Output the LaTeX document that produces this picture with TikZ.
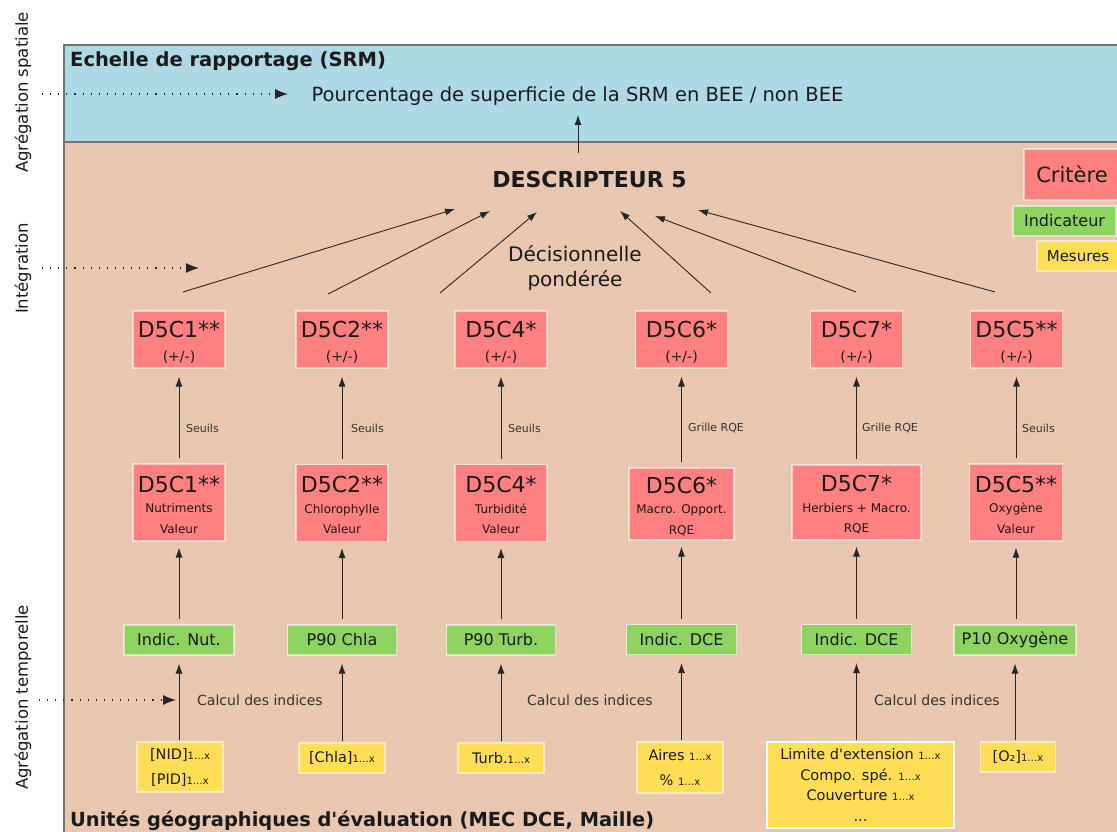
\documentclass[tikz,border=0pt]{standalone}
\usepackage{fontspec}
\setmainfont{DejaVu Sans}[Ligatures=TeXOff]
\usetikzlibrary{arrows.meta}
\definecolor{bgblue}{HTML}{ADD8E6}
\definecolor{bgbrown}{HTML}{E9C6AF}
\definecolor{critred}{HTML}{FF8080}
\definecolor{indgreen}{HTML}{8DD35F}
\definecolor{mesyellow}{HTML}{FFDD55}
\definecolor{txt}{HTML}{1A1A1A}
\newcommand{\fs}[2]{\fontsize{#1}{#2}\selectfont}
\newcommand{\idx}{{\fs{10}{10}1…x}}
\newcommand{\topstrut}[1]{\rule{0pt}{#1}}
\tikzset{
  box/.style={rectangle, inner sep=0pt, draw=white, draw opacity=0.55, line width=1.2pt, text=txt, align=center},
  critbox/.style={box, fill=critred, minimum width=92pt, minimum height=57pt, font=\fs{14}{24}},
  critlow/.style={box, fill=critred, minimum height=77pt, font=\fs{12}{20.5}},
  indbox/.style={box, fill=indgreen, minimum height=30pt, font=\fs{16}{18}},
  mesbox/.style={box, fill=mesyellow, font=\fs{14.5}{25}},
  arr/.style={-{Latex[length=10pt,width=7pt]}, line width=0.9pt, draw=black!85},
  dotarr/.style={-{Latex[length=13pt,width=10pt]}, line width=1.1pt, draw=black!85, dash pattern=on 1.1pt off 7pt},
  lbl/.style={text=black!80, font=\fs{11}{13}, anchor=west, inner sep=0pt},
  calclbl/.style={text=black!80, font=\fs{14}{16}, anchor=west, inner sep=0pt},
  sidelbl/.style={rotate=90, font=\fs{16.5}{18}, text=txt},
}
\begin{document}
\begin{tikzpicture}[x=1pt,y=-1pt]
\useasboundingbox (0,0) rectangle (1117,832);
\clip (0,0) rectangle (1117,832);
\fill[white] (0,0) rectangle (1117,832);
\draw[fill=bgbrown, draw=black!55, line width=1.5pt] (64,142) rectangle (1140,860);
\draw[fill=bgblue, draw=black!55, line width=1.5pt] (64,45) rectangle (1140,142);

% side labels
\node[sidelbl] (lsp) at (23,92.5) {Agrégation spatiale};
\node[sidelbl] (lint) at (23,268.5) {Intégration};
\node[sidelbl] (ltmp) at (23,697.5) {Agrégation temporelle};

% dotted arrows
\coordinate (da1s) at (42,94); \coordinate (da1e) at (288,94);
\coordinate (da2s) at (42,268); \coordinate (da2e) at (199,268);
\coordinate (da3s) at (39,700); \coordinate (da3e) at (176,700);
\draw[dotarr] (da1s) -- (da1e);
\draw[dotarr] (da2s) -- (da2e);
\draw[dotarr] (da3s) -- (da3e);

% headings
\node[anchor=base west, inner sep=0pt, font=\bfseries\fs{19.5}{21}, text=txt] (srm) at (70,67) {Echelle de rapportage (SRM)};
\node[anchor=base west, inner sep=0pt, font=\bfseries\fs{19.4}{21}, text=txt] (uge) at (70,826) {Unités géographiques d'évaluation (MEC DCE, Maille)};
\node[anchor=base, inner sep=0pt, font=\fs{19.5}{21}, text=txt] (pct) at (577.5,102) {Pourcentage de superficie de la SRM en BEE / non BEE};
\node[anchor=base, inner sep=0pt, font=\bfseries\fs{22}{23}, text=txt] (d5) at (589.5,187) {DESCRIPTEUR 5};
\node[align=center, inner sep=0pt, font=\fs{20}{25}, text=txt] (dec) at (575,268) {Décisionnelle\\pondérée};
\coordinate (d5a) at (578,153); \coordinate (pca) at (578,115);
\draw[arr] (d5a) -- (pca);

% legend
\node[box, fill=critred, minimum width=96pt, minimum height=51pt, font=\fs{21}{24}] (lc) at (1072,174.5) {Critère};
\node[indbox, minimum width=103pt] (li) at (1064.5,221) {Indicateur};
\node[mesbox, minimum width=82pt, minimum height=30pt, font=\fs{15}{17}] (lm) at (1078,256) {Mesures};

% top criteria
\node[critbox] (t1) at (179,339.5) {\topstrut{22pt}\fs{22}{24}D5C1**\\\fs{14}{24}(+/-)};
\node[critbox] (t2) at (342,339.5) {\topstrut{22pt}\fs{22}{24}D5C2**\\\fs{14}{24}(+/-)};
\node[critbox] (t3) at (501,339.5) {\topstrut{22pt}\fs{22}{24}D5C4*\\\fs{14}{24}(+/-)};
\node[critbox] (t4) at (681.5,339.5) {\topstrut{22pt}\fs{22}{24}D5C6*\\\fs{14}{24}(+/-)};
\node[critbox] (t5) at (856.5,339.5) {\topstrut{22pt}\fs{22}{24}D5C7*\\\fs{14}{24}(+/-)};
\node[critbox] (t6) at (1016.5,339.5) {\topstrut{22pt}\fs{22}{24}D5C5**\\\fs{14}{24}(+/-)};

% bottom criteria
\node[critlow, minimum width=92pt] (b1) at (179,502.5) {\topstrut{21pt}\fs{22}{20}D5C1**\\\fs{12}{20}Nutriments\\\fs{12}{20}Valeur};
\node[critlow, minimum width=92pt] (b2) at (342,503) {\topstrut{21pt}\fs{22}{20}D5C2**\\\fs{12}{20}Chlorophylle\\\fs{12}{20}Valeur};
\node[critlow, minimum width=92pt] (b3) at (501,503) {\topstrut{21pt}\fs{22}{20}D5C4*\\\fs{12}{20}Turbidité\\\fs{12}{20}Valeur};
\node[critlow, minimum width=105pt, minimum height=72pt] (b4) at (681.5,504) {\topstrut{21pt}\fs{22}{20}D5C6*\\\fs{12}{20}Macro. Opport.\\\fs{12}{20}RQE};
\node[critlow, minimum width=129pt, minimum height=75pt] (b5) at (856.5,502.5) {\topstrut{21pt}\fs{22}{20}D5C7*\\\fs{12}{20}Herbiers + Macro.\\\fs{12}{20}RQE};
\node[critlow, minimum width=93pt] (b6) at (1016,502.5) {\topstrut{21pt}\fs{22}{20}D5C5**\\\fs{12}{20}Oxygène\\\fs{12}{20}Valeur};

% indicators
\node[indbox, minimum width=110pt] (g1) at (179,640) {Indic. Nut.};
\node[indbox, minimum width=109pt] (g2) at (342,640) {P90 Chla};
\node[indbox, minimum width=109pt] (g3) at (501,640) {P90 Turb.};
\node[indbox, minimum width=110pt] (g4) at (681.5,639.5) {Indic. DCE};
\node[indbox, minimum width=110pt] (g5) at (856.5,639.5) {Indic. DCE};
\node[indbox, minimum width=122pt] (g6) at (1015,640) {P10 Oxygène};

% measures
\node[mesbox, minimum width=86pt, minimum height=50pt] (m1) at (180,767) {[NID]\idx\\{}[PID]\idx};
\node[mesbox, minimum width=86pt, minimum height=30pt] (m2) at (342,758) {[Chla]\idx};
\node[mesbox, minimum width=86pt, minimum height=30pt] (m3) at (501,758) {Turb.\idx};
\node[mesbox, minimum width=86pt, minimum height=51pt] (m4) at (680,767.5) {Aires \idx\\\% \idx};
\node[mesbox, draw opacity=1, minimum width=187pt, minimum height=86pt, font=\fs{14.5}{20.5}] (m5) at (860.5,785) {Limite d'extension \idx\\Compo. spé. \idx\\Couverture \idx\\...};
\node[mesbox, minimum width=75pt, minimum height=30pt] (m6) at (1018,757) {[O₂]\idx};

% arrows measures -> indicators
\draw[arr, shorten <=1pt, shorten >=8pt] (m1.north -| g1) -- (g1.south);
\draw[arr, shorten <=1pt, shorten >=8pt] (m2.north -| g2) -- (g2.south);
\draw[arr, shorten <=1pt, shorten >=8pt] (m3.north -| g3) -- (g3.south);
\draw[arr, shorten <=1pt, shorten >=8pt] (m4.north -| g4) -- (g4.south);
\draw[arr, shorten <=1pt, shorten >=8pt] (m5.north -| g5) -- (g5.south);
\draw[arr, shorten <=1pt, shorten >=8pt] (m6.north -| g6) -- (g6.south);

% arrows indicators -> criteria values
\draw[arr, shorten <=5pt, shorten >=6pt] (g1.north) -- (b1.south);
\draw[arr, shorten <=5pt, shorten >=6pt] (g2.north) -- (b2.south);
\draw[arr, shorten <=5pt, shorten >=6pt] (g3.north) -- (b3.south);
\draw[arr, shorten <=5pt, shorten >=6pt] (g4.north) -- (b4.south);
\draw[arr, shorten <=5pt, shorten >=6pt] (g5.north) -- (b5.south);
\draw[arr, shorten <=5pt, shorten >=6pt] (g6.north -| b6) -- (b6.south);

% arrows criteria values -> criteria status
\draw[arr, shorten <=5pt, shorten >=8pt] (b1.north) -- (t1.south);
\draw[arr, shorten <=5pt, shorten >=8pt] (b2.north) -- (t2.south);
\draw[arr, shorten <=5pt, shorten >=8pt] (b3.north) -- (t3.south);
\draw[arr, shorten <=5pt, shorten >=8pt] (b4.north) -- (t4.south);
\draw[arr, shorten <=5pt, shorten >=8pt] (b5.north) -- (t5.south);
\draw[arr, shorten <=5pt, shorten >=8pt] (b6.north -| t6) -- (t6.south);

% labels
\node[lbl] (s1) at (186,428) {Seuils};
\node[lbl] (s2) at (351,428) {Seuils};
\node[lbl] (s3) at (508,428) {Seuils};
\node[lbl] (s4) at (688,428) {Grille RQE};
\node[lbl] (s5) at (862,428) {Grille RQE};
\node[lbl] (s6) at (1022,428) {Seuils};
\node[calclbl] (c1) at (197,700) {Calcul des indices};
\node[calclbl] (c2) at (527,700) {Calcul des indices};
\node[calclbl] (c3) at (874,700) {Calcul des indices};

% arrows to descriptor
\coordinate (s1a) at (183,292); \coordinate (e1a) at (455,209);
\coordinate (s2a) at (328,294); \coordinate (e2a) at (490,211);
\coordinate (s3a) at (440,293); \coordinate (e3a) at (537,212);
\coordinate (s4a) at (711,293); \coordinate (e4a) at (620,211);
\coordinate (s5a) at (856,292); \coordinate (e5a) at (655,216);
\coordinate (s6a) at (995,292); \coordinate (e6a) at (698,210);
\draw[arr] (s1a) -- (e1a);
\draw[arr] (s2a) -- (e2a);
\draw[arr] (s3a) -- (e3a);
\draw[arr] (s4a) -- (e4a);
\draw[arr] (s5a) -- (e5a);
\draw[arr] (s6a) -- (e6a);
\end{tikzpicture}
\end{document}
